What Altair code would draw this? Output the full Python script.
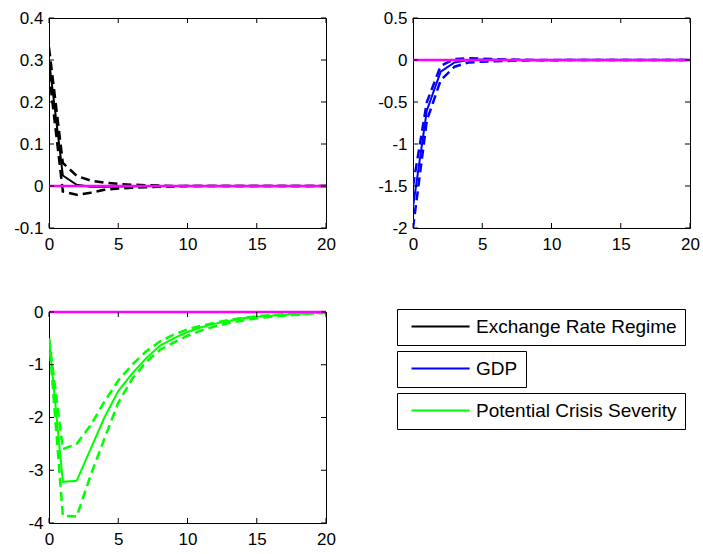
import altair as alt
import pandas as pd

t = list(range(21))
x_ticks = [0, 5, 10, 15, 20]
names = ["Exchange Rate Regime", "GDP", "Potential Crisis Severity"]
colors = ["#000000", "#0000ff", "#00ff00"]

ex_mid = [0.30, 0.025, 0.003, -0.002, -0.002, -0.001, -0.001, 0.0, 0.0, 0.0, 0.0,
          0.0, 0.0, 0.0, 0.0, 0.0, 0.0, 0.0, 0.0, 0.0, 0.0]
ex_lo = [0.27, -0.013, -0.021, -0.016, -0.009, -0.006, -0.004, -0.003, -0.002, -0.001, 0.0,
         0.0, 0.0, 0.0, 0.0, 0.0, 0.0, 0.0, 0.0, 0.0, 0.0]
ex_hi = [0.33, 0.055, 0.024, 0.013, 0.008, 0.005, 0.003, 0.002, 0.001, 0.0, 0.0,
         0.0, 0.0, 0.0, 0.0, 0.0, 0.0, 0.0, 0.0, 0.0, 0.0]
ex_yticks = [-0.1, 0, 0.1, 0.2, 0.3, 0.4]

gdp_mid = [-1.75, -0.60, -0.14, -0.03, 0.0, 0.005, 0.003, 0.001, 0.0, 0.0, 0.0,
           0.0, 0.0, 0.0, 0.0, 0.0, 0.0, 0.0, 0.0, 0.0, 0.0]
gdp_lo = [-2.0, -0.72, -0.24, -0.08, -0.03, -0.02, -0.015, -0.01, -0.005, -0.003, -0.002,
          -0.001, 0.0, 0.0, 0.0, 0.0, 0.0, 0.0, 0.0, 0.0, 0.0]
gdp_hi = [-1.5, -0.50, -0.07, 0.01, 0.02, 0.015, 0.01, 0.005, 0.002, 0.001, 0.0,
          0.0, 0.0, 0.0, 0.0, 0.0, 0.0, 0.0, 0.0, 0.0, 0.0]
gdp_yticks = [-2, -1.5, -1, -0.5, 0, 0.5]

cr_mid = [-0.5, -3.22, -3.2, -2.6, -2.0, -1.5, -1.17, -0.88, -0.64, -0.5, -0.38,
          -0.29, -0.22, -0.17, -0.12, -0.09, -0.07, -0.05, -0.035, -0.02, -0.01]
cr_lo = [-0.5, -3.86, -3.88, -3.1, -2.4, -1.72, -1.27, -0.95, -0.72, -0.58, -0.45,
         -0.35, -0.27, -0.21, -0.16, -0.12, -0.09, -0.07, -0.05, -0.03, -0.02]
cr_hi = [-0.5, -2.6, -2.5, -2.15, -1.7, -1.3, -1.0, -0.75, -0.56, -0.43, -0.33,
         -0.26, -0.2, -0.15, -0.11, -0.08, -0.06, -0.04, -0.03, -0.02, -0.01]
cr_yticks = [-4, -3, -2, -1, 0]

FONT = "Liberation Sans"
W, H = 277, 210
LEGEND_PATH = "M -1 0 L 7.3 0"


def panel(name, color, mid, lo, hi, yticks, lx, ly, h):
    df = pd.DataFrame({
        "t": t * 3,
        "v": mid + lo + hi,
        "band": ["mid"] * 21 + ["lo"] * 21 + ["hi"] * 21,
        "series": [name] * 63,
    })
    xs = alt.Scale(domain=[0, 20], nice=False, zero=False)
    ys = alt.Scale(domain=[yticks[0], yticks[-1]], nice=False, zero=False)
    common = dict(ticks=False, tickSize=0, domain=False, grid=False,
                  labelFont=FONT, labelFontSize=17, labelColor="black",
                  labelFlush=False, labelOverlap=False, title=None,
                  labelExpr="'' + datum.value")
    xax = alt.Axis(values=x_ticks, labelPadding=8, **common)
    yax = alt.Axis(values=yticks, labelPadding=6, **common)
    col = alt.Color(
        "series:N",
        scale=alt.Scale(domain=[name], range=[color]),
        legend=alt.Legend(
            title=None, orient="none", legendX=lx, legendY=ly,
            strokeColor="black", fillColor="white", padding=8,
            symbolType=LEGEND_PATH, symbolSize=196, symbolStrokeWidth=2,
            symbolOffset=4, labelOffset=48, labelFont=FONT, labelFontSize=19,
            labelColor="black", labelLimit=400,
        ),
    )
    base = alt.Chart(df)
    solid = base.transform_filter("datum.band == 'mid'").mark_line(
        strokeWidth=2, clip=True
    ).encode(
        x=alt.X("t:Q", scale=xs, axis=xax),
        y=alt.Y("v:Q", scale=ys, axis=yax),
        color=col,
    )
    dashed = base.transform_filter("datum.band != 'mid'").mark_line(
        strokeWidth=2.5, strokeDash=[9, 5], clip=True
    ).encode(
        x=alt.X("t:Q", scale=xs),
        y=alt.Y("v:Q", scale=ys),
        color=col,
        detail="band:N",
    )
    zero = alt.Chart(pd.DataFrame({"v": [0]})).mark_rule(
        color="#ff00ff", strokeWidth=2.5
    ).encode(y=alt.Y("v:Q", scale=ys))
    ydf = pd.DataFrame({"v": yticks})
    xdf = pd.DataFrame({"t": x_ticks})
    tl = alt.Chart(ydf).mark_rule(color="black", strokeWidth=1).encode(
        y=alt.Y("v:Q", scale=ys), x=alt.value(0), x2=alt.value(5))
    tr = alt.Chart(ydf).mark_rule(color="black", strokeWidth=1).encode(
        y=alt.Y("v:Q", scale=ys), x=alt.value(W - 5), x2=alt.value(W))
    tb = alt.Chart(xdf).mark_rule(color="black", strokeWidth=1).encode(
        x=alt.X("t:Q", scale=xs), y=alt.value(h), y2=alt.value(h - 5))
    tt = alt.Chart(xdf).mark_rule(color="black", strokeWidth=1).encode(
        x=alt.X("t:Q", scale=xs), y=alt.value(0), y2=alt.value(5))
    return alt.layer(solid, dashed, zero, tl, tr, tb, tt).properties(width=W, height=h)


p1 = panel(names[0], colors[0], ex_mid, ex_lo, ex_hi, ex_yticks, 348, 291, H)
p2 = panel(names[1], colors[1], gdp_mid, gdp_lo, gdp_hi, gdp_yticks, -16, 333, H)
p3 = panel(names[2], colors[2], cr_mid, cr_lo, cr_hi, cr_yticks, 348, 81, 211)

chart = alt.concat(
    p1, p2, p3, columns=2, bounds="flush",
    spacing=alt.RowColnumber(row=84, column=87),
).resolve_scale(
    color="independent"
).properties(
    padding={"left": 13, "top": 8, "right": 0, "bottom": 0}
).configure_view(stroke="black", strokeWidth=1)

chart.save("out.html", embed_options={"renderer": "svg", "actions": False})
